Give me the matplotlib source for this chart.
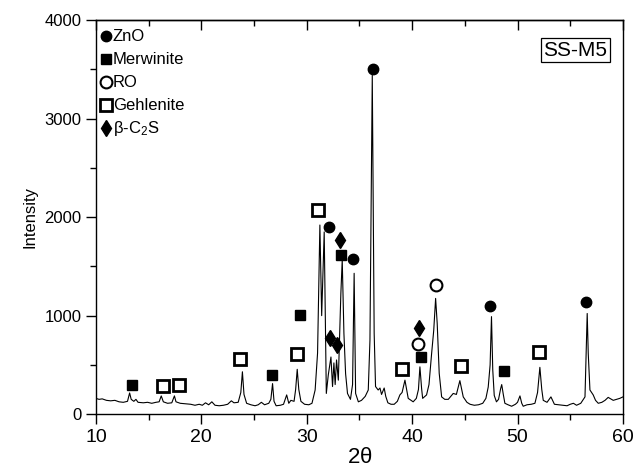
import matplotlib
matplotlib.use("Agg")
import matplotlib.pyplot as plt

plt.rcParams['font.family'] = ['Liberation Sans', 'DejaVu Sans']

# XRD trace (2theta, counts)
two_theta = [10.0, 10.3, 10.6, 11.0, 11.4, 11.8, 12.2, 12.6, 13.0, 13.2, 13.35, 13.6, 13.8,
             14.0, 14.5, 14.9, 15.3, 15.7, 16.0, 16.2, 16.4, 16.8, 17.2, 17.45, 17.6, 18.0,
             18.5, 19.0, 19.4, 19.8, 20.1, 20.4, 20.7, 21.0, 21.3, 21.7, 22.1, 22.5, 22.85,
             23.1, 23.5, 23.75, 23.9, 24.05, 24.3, 24.7, 25.1, 25.4, 25.7, 26.0, 26.4, 26.6,
             26.76, 26.9, 27.1, 27.5, 27.8, 28.1, 28.3, 28.5, 28.8, 28.95, 29.1, 29.25, 29.45,
             29.8, 30.2, 30.5, 30.8, 31.03, 31.25, 31.42, 31.66, 31.86, 32.05, 32.3, 32.45,
             32.58, 32.7, 32.83, 33.0, 33.24, 33.37, 33.53, 33.69, 33.87, 34.15, 34.35, 34.5,
             34.64, 34.9, 35.2, 35.55, 35.84, 36.0, 36.22, 36.4, 36.53, 36.78, 36.95, 37.1,
             37.35, 37.5, 37.7, 38.0, 38.3, 38.6, 38.84, 39.05, 39.32, 39.63, 40.1, 40.4, 40.6,
             40.74, 40.9, 41.0, 41.37, 41.6, 41.85, 42.05, 42.23, 42.38, 42.57, 42.8, 43.1,
             43.43, 43.9, 44.2, 44.53, 44.85, 45.2, 45.5, 45.9, 46.3, 46.7, 47.0, 47.22, 47.4,
             47.53, 47.65, 47.79, 48.0, 48.2, 48.4, 48.5, 48.65, 48.8, 49.1, 49.44, 49.8, 50.0,
             50.23, 50.4, 50.54, 50.9, 51.3, 51.65, 51.9, 52.12, 52.3, 52.44, 52.8, 53.17, 53.5,
             53.9, 54.3, 54.7, 55.0, 55.3, 55.6, 56.0, 56.4, 56.61, 56.71, 56.87, 57.18, 57.4,
             57.66, 58.0, 58.3, 58.6, 59.08, 59.4, 59.7, 60.0]
intensity = [160, 150, 155, 140, 135, 140, 125, 120, 130, 215, 150, 130, 150,
             120, 115, 120, 110, 120, 125, 185, 125, 110, 115, 185, 125, 110,
             105, 100, 90, 100, 90, 115, 95, 125, 90, 85, 90, 100, 135,
             115, 120, 220, 430, 200, 110, 95, 85, 95, 120, 95, 110, 150,
             310, 130, 85, 90, 100, 195, 110, 140, 130, 250, 455, 250, 130,
             100, 95, 110, 245, 620, 1920, 1000, 1850, 210, 400, 580, 280,
             520, 300, 550, 345, 1225, 1565, 820, 410, 210, 150, 300, 1430,
             210, 125, 140, 180, 245, 750, 3440, 820, 280, 245, 265, 200,
             265, 180, 115, 100, 100, 130, 195, 220, 345, 160, 125, 160, 250,
             480, 260, 160, 195, 300, 615, 850, 1175, 920, 415, 175, 150,
             150, 210, 200, 340, 175, 120, 100, 90, 95, 110, 160, 275, 500,
             990, 450, 190, 125, 150, 260, 300, 200, 110, 95, 80, 100, 120,
             185, 110, 80, 95, 100, 110, 220, 475, 250, 140, 120, 175, 100,
             95, 90, 85, 100, 110, 90, 110, 175, 1022, 615, 245, 195, 140,
             110, 120, 140, 170, 140, 150, 160, 175]

# phase markers
zno_x = [32.1, 34.4, 36.3, 47.4, 56.5]
zno_y = [1895, 1575, 3500, 1095, 1140]
merw_x = [13.4, 26.7, 29.4, 33.3, 40.8, 48.7]
merw_y = [295, 395, 1005, 1620, 580, 437]
ro_x = [40.6, 42.25]
ro_y = [711, 1306]
gehl_x = [16.4, 17.9, 23.7, 29.05, 31.05, 39.05, 44.6, 52.05]
gehl_y = [284, 298, 558, 610, 2068, 460, 490, 626]
c2s_x = [32.2, 32.9, 33.2, 40.7]
c2s_y = [778, 700, 1773, 876]

legend_labels = ['ZnO', 'Merwinite', 'RO', 'Gehlenite', r'$\mathregular{\beta}$-C$\mathregular{_2}$S']

fig = plt.figure(figsize=(6.35, 4.69), dpi=100)
ax = fig.add_axes([0.151, 0.117, 0.830, 0.840])

ax.plot(two_theta, intensity, color='black', lw=0.8)

styles = [
    dict(marker='o', color='black', ms=7.5, mfc='black', mec='black'),
    dict(marker='s', color='black', ms=7, mfc='black', mec='black'),
    dict(marker='o', color='black', ms=8.5, mfc='white', mec='black', mew=1.5),
    dict(marker='s', color='black', ms=8, mfc='white', mec='black', mew=2),
    dict(marker='d', color='black', ms=8.5, mfc='black', mec='black'),
]
for (xs, ys), st in zip([(zno_x, zno_y), (merw_x, merw_y), (ro_x, ro_y),
                         (gehl_x, gehl_y), (c2s_x, c2s_y)], styles):
    ax.plot(xs, ys, ls='none', clip_on=False, **st)

# hand-made legend in the top left corner
leg_y = [0.959, 0.901, 0.843, 0.784, 0.726]
for lab, st, yy in zip(legend_labels, styles, leg_y):
    ax.plot([0.019], [yy], ls='none', transform=ax.transAxes, **st)
    ax.text(0.032, yy, lab, transform=ax.transAxes, fontsize=12, va='center', ha='left')

ax.text(0.970, 0.924, 'SS-M5', transform=ax.transAxes, fontsize=15, ha='right', va='center',
        bbox=dict(boxstyle='square,pad=0.12', fc='white', ec='black', lw=0.9))

ax.set_xlim(10, 60)
ax.set_ylim(0, 4000)
ax.set_xticks([10, 20, 30, 40, 50, 60])
ax.set_xticks([15, 25, 35, 45, 55], minor=True)
ax.set_yticks([0, 1000, 2000, 3000, 4000])
ax.set_yticks([500, 1500, 2500, 3500], minor=True)
ax.tick_params(axis='x', which='major', labelsize=14, length=7, width=1, direction='out')
ax.tick_params(axis='x', which='minor', length=4, width=1, direction='out')
ax.tick_params(axis='y', which='major', labelsize=12, length=7, width=1, direction='out')
ax.tick_params(axis='y', which='minor', length=4, width=1, direction='out')

# top axis: ticks pointing into the plot, no labels
top = ax.secondary_xaxis('top')
top.set_xticks([10, 20, 30, 40, 50, 60])
top.set_xticks([15, 25, 35, 45, 55], minor=True)
top.tick_params(which='major', direction='in', length=7, width=1, labeltop=False)
top.tick_params(which='minor', direction='in', length=4, width=1)
top.spines['top'].set_linewidth(1.0)

for s in ax.spines.values():
    s.set_linewidth(1.0)

ax.set_xlabel(r'2$\mathregular{\theta}$', fontsize=16, labelpad=1)
ax.set_ylabel('Intensity', fontsize=12, labelpad=5)

fig.savefig('out.png', dpi=100)
